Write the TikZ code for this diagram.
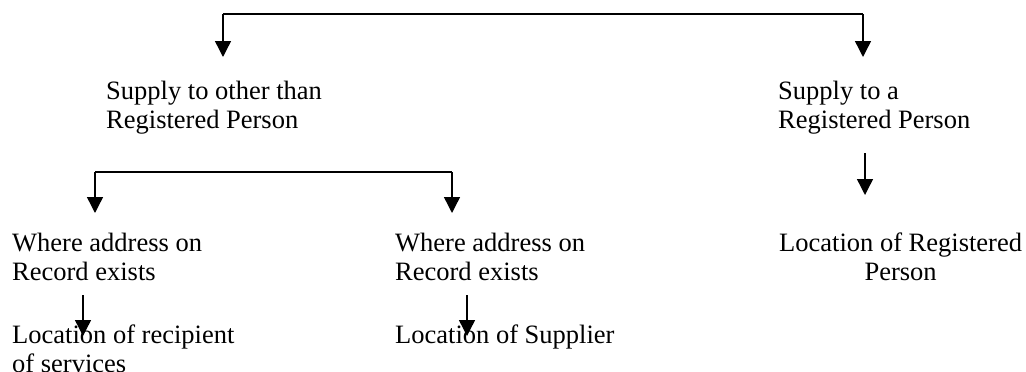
\documentclass[tikz,border=0pt]{standalone}
\usepackage{fontspec}
\setmainfont{Liberation Serif}
\usetikzlibrary{arrows.meta}

\begin{document}
\begin{tikzpicture}[
	x=1pt,y=-1pt,
	txt/.style={anchor=base west,inner sep=0pt,align=left,font=\fontsize{26.5}{29.5}\selectfont},
	link/.style={line width=1.4pt},
	directed/.style={line width=1.4pt,arrows={-Triangle[length=16pt,width=16pt]}}]
	\useasboundingbox (0,0) rectangle (1026,372);
	% text blocks (base = baseline of the last line)
	\node[txt] (other)  at (106,128.5) {Supply to other than\\Registered Person};
	\node[txt] (reg)    at (778,128.5) {Supply to a\\Registered Person};
	\node[txt] (addrA)  at (12,280.5)  {Where address on\\Record exists};
	\node[txt] (addrB)  at (395,280.5) {Where address on\\Record exists};
	\node[txt,align=center] (regloc) at (779,280.5) {Location of Registered\\Person};
	\node[txt] (recip)  at (12,372.5)  {Location of recipient\\of services};
	\node[txt] (suppl)  at (395,343)   {Location of Supplier};
	% ends of the connectors
	\coordinate (topL) at (223,14);
	\coordinate (topR) at (863,14);
	\coordinate (tipOther) at (223,57);
	\coordinate (tipReg) at (863,57);
	\coordinate (midL) at (95,172);
	\coordinate (midR) at (452,172);
	\coordinate (tipA) at (95,213);
	\coordinate (tipB) at (452,213);
	\coordinate (fromReg) at (865,153);
	\coordinate (tipRegloc) at (865,195);
	\coordinate (fromA) at (83,295);
	\coordinate (tipRecip) at (83,336);
	\coordinate (fromB) at (467,295);
	\coordinate (tipSuppl) at (467,336);
	% brackets
	\draw[link] (topL) -- (topR);
	\draw[directed] (topL) -- (tipOther);
	\draw[directed] (topR) -- (tipReg);
	\draw[link] (midL) -- (midR);
	\draw[directed] (midL) -- (tipA);
	\draw[directed] (midR) -- (tipB);
	% single steps
	\draw[directed] (fromReg) -- (tipRegloc);
	\draw[directed] (fromA) -- (tipRecip);
	\draw[directed] (fromB) -- (tipSuppl);
\end{tikzpicture}
\end{document}
